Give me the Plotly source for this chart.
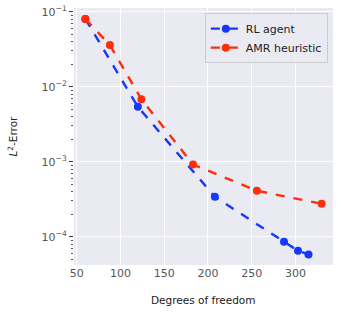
import plotly.graph_objects as go
import numpy as np

rl_dof = [60, 120, 208, 287, 303, 315]
rl_err = [0.08, 0.0054, 3.4e-4, 8.6e-5, 6.5e-5, 5.8e-5]
amr_dof = [60, 88, 124, 183, 256, 330]
amr_err = [0.08, 0.036, 0.0068, 9.2e-4, 4.1e-4, 2.75e-4]

x_ticks = [50, 100, 150, 200, 250, 300]
y_tickvals = [1e-1, 1e-2, 1e-3, 1e-4]
y_ticktext = ["10<sup>−1</sup>", "10<sup>−2</sup>", "10<sup>−3</sup>", "10<sup>−4</sup>"]

BLUE = "#1438ff"
RED = "#ff2d0a"

fig = go.Figure()
fig.add_trace(go.Scatter(x=rl_dof, y=rl_err, name="RL agent", mode="lines+markers",
                         line=dict(color=BLUE, width=2.4, dash="dash"),
                         marker=dict(color=BLUE, size=8)))
fig.add_trace(go.Scatter(x=amr_dof, y=amr_err, name="AMR heuristic", mode="lines+markers",
                         line=dict(color=RED, width=2.4, dash="dash"),
                         marker=dict(color=RED, size=8)))

fig.update_layout(
    width=341, height=313,
    margin=dict(l=74, r=8, t=8, b=48),
    paper_bgcolor="white", plot_bgcolor="#EAEAF2",
    font=dict(family="DejaVu Sans", size=10, color="#555"),
    showlegend=True,
    legend=dict(x=0.98, y=0.98, xanchor="right", yanchor="top",
                bgcolor="rgba(234,234,242,0.9)", bordercolor="#cccccc", borderwidth=1,
                font=dict(size=11, color="#222"), tracegroupgap=0,
                itemwidth=30),
    annotations=[
        dict(text="Degrees of freedom", xref="paper", yref="paper", x=0.5, y=0,
             yshift=-35, xanchor="center", yanchor="middle", showarrow=False,
             font=dict(size=10.5, color="#222")),
        dict(text="<i>L</i><sup>2</sup>-Error", xref="paper", yref="paper", x=0, y=0.5,
             xshift=-62, xanchor="center", yanchor="middle", showarrow=False, textangle=-90,
             font=dict(size=10.5, color="#222")),
    ],
)
fig.update_xaxes(range=[47, 343], tickvals=x_ticks, showgrid=True, gridcolor="white",
                 gridwidth=1.2, zeroline=False, showline=False, ticks="", automargin=False,
                 tickfont=dict(size=11, color="#555"))
fig.update_yaxes(type="log", range=[-4.377, -0.95], tickvals=y_tickvals, ticktext=y_ticktext,
                 showgrid=True, gridcolor="white", gridwidth=1.2, zeroline=False, showline=False,
                 ticks="outside", ticklen=4, tickcolor="#333", tickwidth=1, automargin=False,
                 minor=dict(ticks="outside", ticklen=2, tickcolor="#555", showgrid=False, dtick="D1"),
                 tickfont=dict(size=11, color="#555"))

fig.write_html("out.html", config={"displayModeBar": False},
               post_script="document.body.style.margin='0';")
